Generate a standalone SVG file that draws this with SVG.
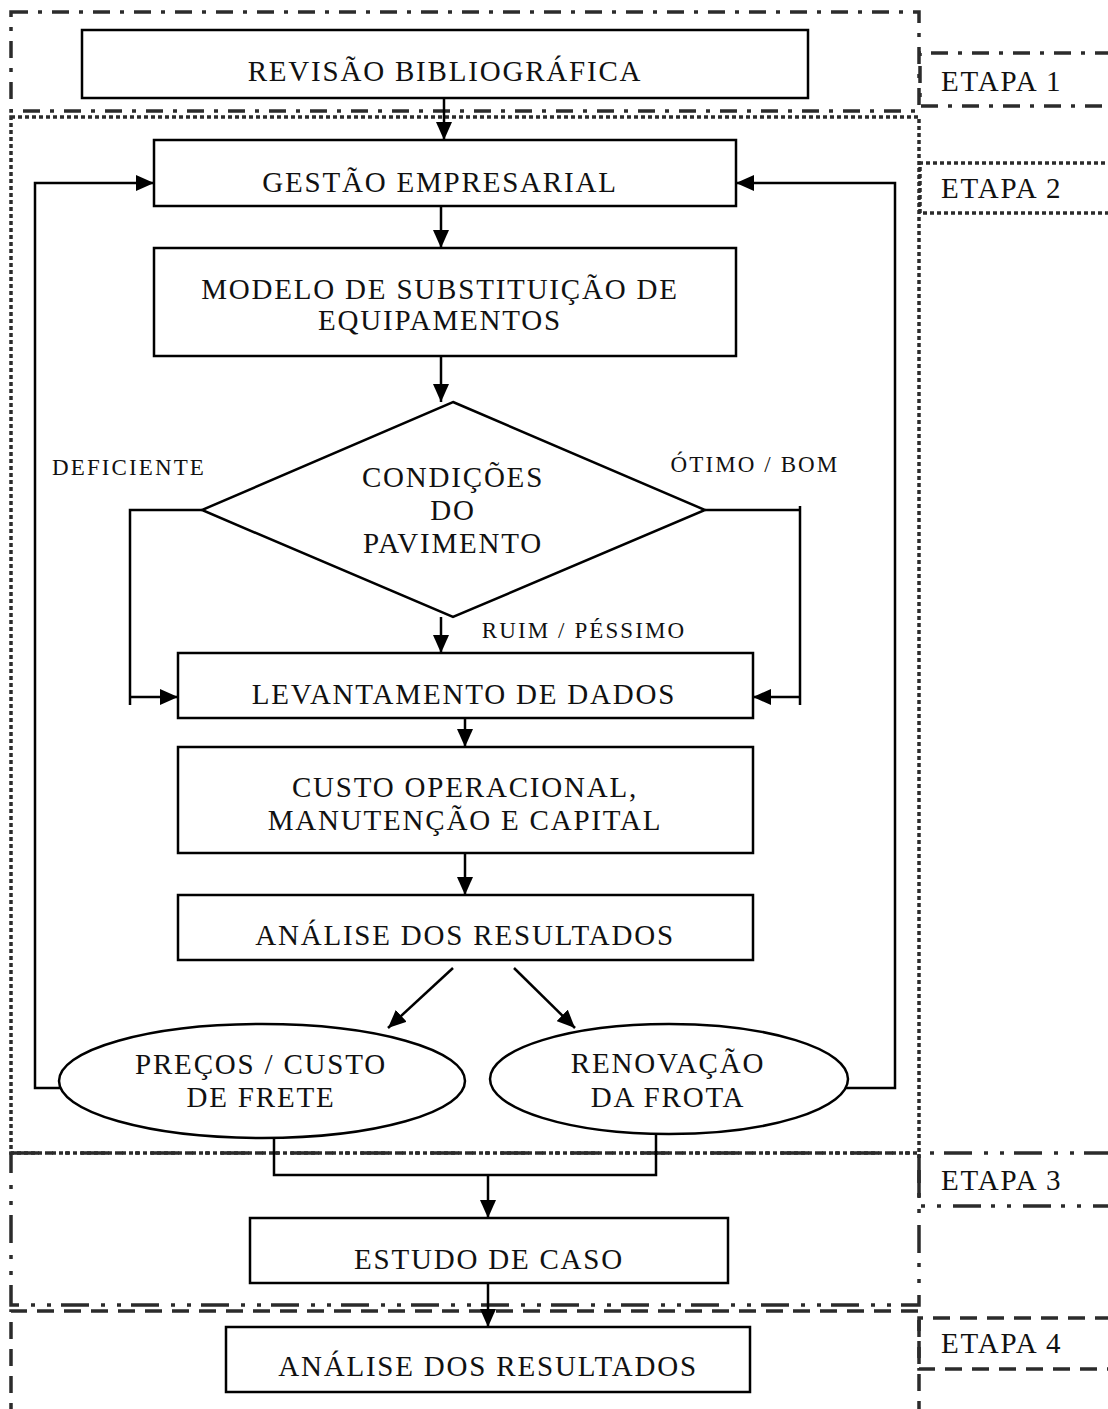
<svg xmlns="http://www.w3.org/2000/svg" width="1108" height="1409" viewBox="0 0 1108 1409">
  <defs>
    <marker id="arrow" markerUnits="userSpaceOnUse" markerWidth="18" markerHeight="16" refX="18" refY="8" orient="auto">
      <path d="M0,0 L18,8 L0,16 z" fill="#000"/>
    </marker>
    <style>
      .frame { fill: none; stroke: #2b2b2b; stroke-width: 3.5; }
      .dashdot { stroke-dasharray: 17 10 4 10; }
      .dotted { stroke-dasharray: 4 3; }
      .dashdotdot { stroke-dasharray: 28 10 4 12 4 12; }
      .dashed { stroke-dasharray: 17 10; }
      .box { fill: #fff; stroke: #000; stroke-width: 2.5; }
      .line { fill: none; stroke: #000; stroke-width: 2.5; }
      .arr { fill: none; stroke: #000; stroke-width: 2.5; marker-end: url(#arrow); }
      text { font-family: "Liberation Serif", "Times New Roman", serif; fill: #111; }
      .t { font-size: 29px; letter-spacing: 1.8px; text-anchor: middle; }
      .s { font-size: 23px; letter-spacing: 2.1px; text-anchor: middle; }
      .lbl { font-size: 29px; letter-spacing: 1.8px; }
    </style>
  </defs>

  <!-- stage frames -->
  <g id="stages">
    <rect class="frame dashdot" x="11" y="12" width="908" height="99"/>
    <path class="frame dashdot" d="M1112,53 H920 V106 H1112"/>
    <text class="lbl" x="941" y="91">ETAPA 1</text>

    <rect class="frame dotted" x="11" y="117" width="908" height="1036"/>
    <path class="frame dotted" d="M1112,163 H920 V213 H1112"/>
    <text class="lbl" x="941" y="198">ETAPA 2</text>

    <rect class="frame dashdotdot" x="11" y="1153" width="908" height="152"/>
    <path class="frame dashdotdot" d="M1112,1153 H919 V1206 H1112"/>
    <text class="lbl" x="941" y="1190">ETAPA 3</text>

    <path class="frame dashed" d="M11,1420 V1311 H919 V1420"/>
    <path class="frame dashed" d="M1112,1318 H919 V1369 H1112"/>
    <text class="lbl" x="941" y="1353">ETAPA 4</text>
  </g>

  <!-- connectors -->
  <g id="connectors">
    <path class="arr" d="M444,98 V140"/>
    <path class="arr" d="M441,206 V248"/>
    <path class="arr" d="M441,356 V402"/>
    <path class="arr" d="M61,1088 H35 V183 H154"/>
    <path class="arr" d="M845,1088 H895 V183 H736"/>
    <path class="line" d="M202,510 H130 V705"/>
    <path class="arr" d="M130,697 H178"/>
    <path class="line" d="M705,510 H800 M800,506 V705"/>
    <path class="arr" d="M800,697 H753"/>
    <path class="arr" d="M441,617 V653"/>
    <path class="arr" d="M465,718 V747"/>
    <path class="arr" d="M465,853 V895"/>
    <path class="arr" d="M453,968 L388,1028"/>
    <path class="arr" d="M514,968 L575,1028"/>
    <path class="line" d="M274,1138 V1175 H656 V1134"/>
    <path class="arr" d="M488,1175 V1218"/>
    <path class="arr" d="M488,1283 V1327"/>
    <text class="s" x="129" y="475">DEFICIENTE</text>
    <text class="s" x="755" y="472">ÓTIMO / BOM</text>
    <text class="s" x="584" y="638">RUIM / PÉSSIMO</text>
  </g>

  <g id="revisao">
    <rect class="box" x="82" y="30" width="726" height="68"/>
    <text class="t" x="445" y="81">REVISÃO BIBLIOGRÁFICA</text>
  </g>

  <g id="gestao">
    <rect class="box" x="154" y="140" width="582" height="66"/>
    <text class="t" x="440" y="192">GESTÃO EMPRESARIAL</text>
  </g>

  <g id="modelo">
    <rect class="box" x="154" y="248" width="582" height="108"/>
    <text class="t" x="440" y="299">MODELO DE SUBSTITUIÇÃO DE</text>
    <text class="t" x="440" y="330">EQUIPAMENTOS</text>
  </g>

  <g id="condicoes">
    <polygon class="box" points="453,402 705,510 453,617 202,510"/>
    <text class="t" x="453" y="487">CONDIÇÕES</text>
    <text class="t" x="453" y="520">DO</text>
    <text class="t" x="453" y="553">PAVIMENTO</text>
  </g>

  <g id="levantamento">
    <rect class="box" x="178" y="653" width="575" height="65"/>
    <text class="t" x="464" y="704">LEVANTAMENTO DE DADOS</text>
  </g>

  <g id="custo">
    <rect class="box" x="178" y="747" width="575" height="106"/>
    <text class="t" x="465" y="797">CUSTO OPERACIONAL,</text>
    <text class="t" x="465" y="830">MANUTENÇÃO E CAPITAL</text>
  </g>

  <g id="analise">
    <rect class="box" x="178" y="895" width="575" height="65"/>
    <text class="t" x="465" y="945">ANÁLISE DOS RESULTADOS</text>
  </g>

  <g id="precos">
    <ellipse class="box" cx="262" cy="1081" rx="203" ry="57"/>
    <text class="t" x="261" y="1074">PREÇOS / CUSTO</text>
    <text class="t" x="261" y="1107">DE FRETE</text>
  </g>

  <g id="renovacao">
    <ellipse class="box" cx="669" cy="1079" rx="179" ry="55"/>
    <text class="t" x="668" y="1073">RENOVAÇÃO</text>
    <text class="t" x="668" y="1107">DA FROTA</text>
  </g>

  <g id="estudo">
    <rect class="box" x="250" y="1218" width="478" height="65"/>
    <text class="t" x="489" y="1269">ESTUDO DE CASO</text>
  </g>

  <g id="analise-final">
    <rect class="box" x="226" y="1327" width="524" height="65"/>
    <text class="t" x="488" y="1376">ANÁLISE DOS RESULTADOS</text>
  </g>
</svg>
